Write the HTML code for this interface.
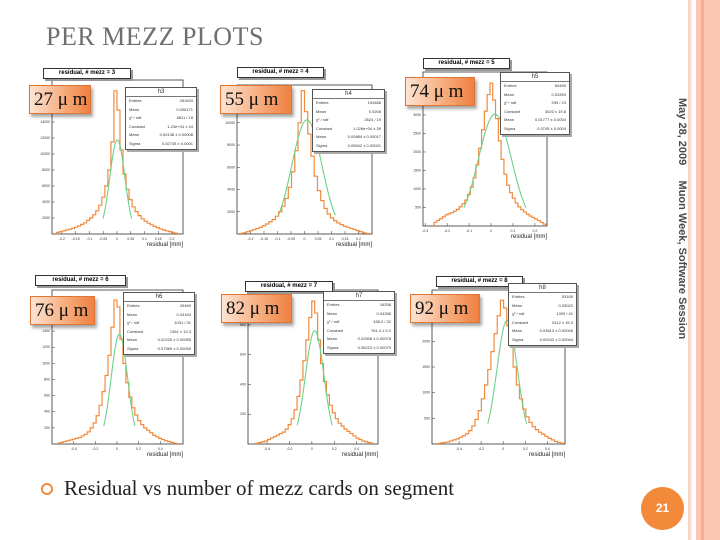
<!DOCTYPE html>
<html><head><meta charset="utf-8">
<style>
body{margin:0;background:#fff;}
#slide{position:relative;width:720px;height:540px;overflow:hidden;background:#fff;font-family:"Liberation Sans",sans-serif;}
.abs{position:absolute;}
.ttl{position:absolute;background:#fff;border:1px solid #333;box-shadow:2px 2px 0 #999;font:bold 6px "Liberation Sans",sans-serif;text-align:center;line-height:9px;height:9px;}
.stat{position:absolute;background:#fff;border:1px solid #555;box-shadow:2px 2px 0 #aaa;font:4px "Liberation Sans",sans-serif;color:#333;}
.stat .h{text-align:center;font-size:6px;border-bottom:1px solid #777;line-height:8px;}
.stat .r{display:flex;justify-content:space-between;padding:0 3px;line-height:8.6px;}
.lab{position:absolute;height:29px;background:linear-gradient(90deg,#fde3d2,#f6a877 60%,#ef8040);border:1px solid #e07636;box-shadow:2px 3px 3px rgba(0,0,0,.35);font:19px "Liberation Serif",serif;line-height:28px;padding-left:4px;color:#111;box-sizing:border-box;white-space:nowrap;overflow:hidden;}
</style></head><body>
<div id="slide">
  <div class="abs" style="left:46px;top:22px;font:26px 'Liberation Serif',serif;color:#6f6f6f;letter-spacing:0.5px;">PER MEZZ PLOTS</div>
  <svg id="plots" class="abs" style="left:0;top:0" width="720" height="540"></svg>
  <div class="abs" style="left:41px;top:483px;width:8px;height:8px;border:2px solid #f08a3c;border-radius:50%;"></div>
  <div class="abs" style="left:64px;top:476px;font:21px 'Liberation Serif',serif;color:#222;">Residual vs number of mezz cards on segment</div>
  <div class="abs" style="left:676px;top:98px;transform-origin:0 0;transform:rotate(90deg) translate(0,-12px);white-space:nowrap;font:bold 11px 'Liberation Sans',sans-serif;color:#4a4a4a;">May 28, 2009&nbsp;&nbsp;&nbsp;&nbsp;&nbsp;Muon Week, Software Session</div>
  <div class="abs" style="left:641px;top:487px;width:43px;height:43px;border-radius:50%;background:#f28a3a;color:#fff;font:bold 12px 'Liberation Sans',sans-serif;text-align:center;line-height:43px;">21</div>
  <div class="abs" style="left:688px;top:0;width:2px;height:540px;background:#fcd2c2;"></div>
  <div class="abs" style="left:690px;top:0;width:2px;height:540px;background:#fde6dd;"></div>
  <div class="abs" style="left:696px;top:0;width:24px;height:540px;background:#fcc6b2;"></div>
  <div class="abs" style="left:701px;top:0;width:3px;height:540px;background:#f6ae92;"></div>
</div>
<script>
// ---- data ----
const panelNames = ['h3','h4','h5','h6','h7','h8'];
const mezzCounts = [3,4,5,6,7,8];
const resolutionLabels = ['27 μ m','55 μ m','74 μ m','76 μ m','82 μ m','92 μ m'];
const xDomains = [[-0.236,0.24],[-0.25,0.25],[-0.31,0.255],[-0.6,0.61],[-0.57,0.59],[-0.645,0.56]];
const yMaxes = [19250,13400,4160,1910,1035,3000];
const binRanges = [[-0.22,0.22],[-0.24,0.24],[-0.26,0.25],[-0.55,0.55],[-0.5,0.55],[-0.6,0.55]];
const counts1 = [200,300,400,500,600,700,850,1000,1200,1400,1700,2000,2400,2900,3600,4600,6000,8000,11500,17900,15500,10500,7500,5600,4300,3400,2800,2300,1900,1600,1350,1150,950,800,650,500,400,300,200,100];
const counts2 = [50,100,200,300,400,500,600,750,900,1100,1300,1600,2000,2500,3200,4200,5600,7500,10000,12900,11000,9000,7000,5200,3900,3000,2300,1800,1450,1200,1000,850,700,600,500,400,300,200,100,50];
const counts3 = [100,150,200,250,300,330,360,400,450,520,600,700,850,1050,1300,1650,2100,2600,3100,3550,3860,3400,2900,2300,1800,1400,1100,900,750,620,520,440,380,320,270,230,190,150,100,50];
const counts4 = [10,20,30,40,50,60,70,80,100,120,150,200,260,350,480,650,850,1100,1450,1785,1700,1300,1000,760,580,450,360,290,240,200,170,140,110,90,70,55,40,30,20,10];
const counts5 = [5,10,15,20,30,40,50,60,70,80,100,130,170,230,320,430,560,700,850,960,880,700,540,420,330,260,210,170,140,120,100,85,70,55,40,30,20,15,10,5];
const counts6 = [10,20,30,40,60,80,100,130,160,200,260,350,480,650,880,1150,1450,1800,2150,2500,2800,2650,2300,1900,1500,1150,880,680,530,420,340,280,230,190,150,110,80,50,30,15];
const allCounts = [counts1,counts2,counts3,counts4,counts5,counts6];
const fitConst = [11750,10260,3020,1361,761.4,2412];
const fitMean = [0.00138,0.00884,0.01777,0.02225,0.02506,0.03613];
const fitSigma = [0.02735,0.05542,0.0745,0.07569,0.08223,0.09243];
const xTicks2 = [-0.4,-0.2,0,0.2,0.4];
const xTicksAll = [[-0.2,-0.15,-0.1,-0.05,0,0.05,0.1,0.15,0.2],[-0.2,-0.15,-0.1,-0.05,0,0.05,0.1,0.15,0.2],[-0.3,-0.2,-0.1,0,0.1,0.2],xTicks2,xTicks2,xTicks2];
const yTicksAll = [[2000,4000,6000,8000,10000,12000,14000],[2000,4000,6000,8000,10000],[500,1000,1500,2000,2500,3000],[200,400,600,800,1000,1200,1400],[200,400,600,800],[500,1000,1500,2000,2500]];
const statEntries = ['251633','194486','60490','26469','16258','53165'];
const statMeans = ['0.006171','0.0206','0.03393','0.04163','0.04286','0.05023'];
const statChi = ['6811 / 18','2624 / 19','939 / 23','1031 / 31','438.2 / 32','1309 / 41'];
const statConst = ['1.23e+04 ± 44','1.026e+04 ± 39','3020 ± 19.8','1361 ± 13.3','761.4 ± 9.2','2412 ± 15.3'];
const statFitMean = ['0.00138 ± 0.00008','0.00884 ± 0.00017','0.01777 ± 0.0004','0.02225 ± 0.00055','0.02506 ± 0.00078','0.03613 ± 0.00045'];
const statSigma = ['0.02735 ± 0.0001','0.05542 ± 0.00021','0.0745 ± 0.0004','0.07569 ± 0.00059','0.08223 ± 0.00079','0.09243 ± 0.00044'];

// ---- layout (pixels) ----
const frames = [[52,183,80,234],[237,372,85,234],[423,547,72,226],[52,183,290,444],[248,378,290,444],[432,565,290,444]];
const titleBoxes = [[43,68,86],[237,67,85],[423,58,85],[35,275,89],[245,281,86],[436,276,85]];
const statBoxes = [[125,87,70],[312,89,71],[500,72,68],[123,292,70],[323,291,70],[508,283,67]];
const labelBoxes = [[29,85,62],[220,85,72],[405,77,70],[30,296,65],[221,294,71],[410,294,70]];

const NS='http://www.w3.org/2000/svg';
const svg=document.getElementById('plots');
const slide=document.getElementById('slide');
function mk(t,a){const e=document.createElementNS(NS,t);for(const k in a)e.setAttribute(k,a[k]);return e;}

for(let p=0;p<6;p++){
  const [L,R,T,B]=frames[p];
  const [x0,x1]=xDomains[p]; const ym=yMaxes[p];
  const sx=v=>L+(v-x0)/(x1-x0)*(R-L);
  const sy=v=>B-v/ym*(B-T);
  const g=mk('g',{});
  
  
  svg.appendChild(g);
  const fr=mk('rect',{x:L,y:T,width:R-L,height:B-T,fill:'#fff',stroke:'#333','stroke-width':0.8});
  
  
  g.appendChild(fr);
  yTicksAll[p].forEach(v=>{
    const y=sy(v);
    g.appendChild(mk('line',{x1:L,x2:L+3,y1:y,y2:y,stroke:'#333','stroke-width':0.5}));
    const t=mk('text',{x:L-2,y:y+1,'font-size':3.5,'text-anchor':'end',fill:'#333','font-family':'Liberation Sans'});
    t.textContent=v;
    
    
    g.appendChild(t);
  });
  xTicksAll[p].forEach(v=>{
    const x=sx(v);
    g.appendChild(mk('line',{x1:x,x2:x,y1:B,y2:B-3,stroke:'#333','stroke-width':0.5}));
    const t=mk('text',{x:x,y:B+6,'font-size':3.5,'text-anchor':'middle',fill:'#333','font-family':'Liberation Sans'});
    t.textContent=v;
    
    
    g.appendChild(t);
  });
  const xt=mk('text',{x:R,y:B+12,'font-size':6,'text-anchor':'end',fill:'#222','font-family':'Liberation Sans'});
  xt.textContent='residual [mm]';
  
  
  g.appendChild(xt);
  const c=allCounts[p]; const [b0,b1]=binRanges[p]; const w=(b1-b0)/c.length;
  let d='M'+sx(b0)+','+sy(0);
  c.forEach((v,i)=>{d+=' L'+sx(b0+i*w)+','+sy(v)+' L'+sx(b0+(i+1)*w)+','+sy(v);});
  d+=' L'+sx(b1)+','+sy(0);
  const hp=mk('path',{d:d,fill:'none',stroke:'#f28a3c','stroke-width':1.2});
  
  
  g.appendChild(hp);
  const m=fitMean[p],s=fitSigma[p],A=fitConst[p];
  let gd='';
  for(let k=0;k<=60;k++){const x=m-1.9*s+k*(3.8*s/60);const y=A*Math.exp(-0.5*((x-m)/s)**2);gd+=(k?' L':'M')+sx(x)+','+sy(y);}
  const fp=mk('path',{d:gd,fill:'none',stroke:'#6fd08a','stroke-width':1.1});
  
  
  g.appendChild(fp);

  const tb=document.createElement('div');
  tb.className='ttl';
  tb.style.left=titleBoxes[p][0]+'px';tb.style.top=titleBoxes[p][1]+'px';tb.style.width=titleBoxes[p][2]+'px';
  tb.textContent='residual, # mezz = '+mezzCounts[p];
  
  
  slide.appendChild(tb);
  const sb=document.createElement('div');
  sb.className='stat';
  sb.style.left=statBoxes[p][0]+'px';sb.style.top=statBoxes[p][1]+'px';sb.style.width=statBoxes[p][2]+'px';
  const rows=[['Entries',statEntries[p]],['Mean',statMeans[p]],['χ² / ndf',statChi[p]],['Constant',statConst[p]],['Mean',statFitMean[p]],['Sigma',statSigma[p]]];
  sb.innerHTML='<div class="h">'+panelNames[p]+'</div>'+rows.map(r=>'<div class="r"><span>'+r[0]+'</span><span>'+r[1]+'</span></div>').join('');
  
  
  slide.appendChild(sb);
  const lb=document.createElement('div');
  lb.className='lab';
  lb.style.left=labelBoxes[p][0]+'px';lb.style.top=labelBoxes[p][1]+'px';lb.style.width=labelBoxes[p][2]+'px';
  lb.textContent=resolutionLabels[p];
  
  
  slide.appendChild(lb);
}
</script>
</body></html>
